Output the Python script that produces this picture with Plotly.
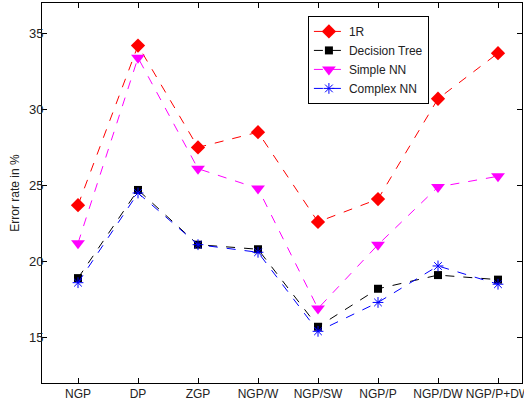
import plotly.graph_objects as go

categories = ["NGP", "DP", "ZGP", "NGP/W", "NGP/SW", "NGP/P", "NGP/DW", "NGP/P+DW"]
one_r = [23.7, 34.2, 27.5, 28.5, 22.6, 24.1, 30.7, 33.7]
decision_tree = [18.9, 24.7, 21.1, 20.8, 15.7, 18.2, 19.1, 18.8]
simple_nn = [21.2, 33.4, 26.1, 24.8, 16.9, 21.1, 24.9, 25.6]
complex_nn = [18.6, 24.5, 21.1, 20.6, 15.4, 17.3, 19.7, 18.5]
y_ticks = [15, 20, 25, 30, 35]

xs = list(range(len(categories)))

fig = go.Figure()
fig.add_trace(go.Scatter(x=xs, y=one_r, name="1R", mode="lines+markers",
                         line=dict(color="red", dash="dash", width=1),
                         marker=dict(symbol="diamond", size=11, color="red")))
fig.add_trace(go.Scatter(x=xs, y=decision_tree, name="Decision Tree", mode="lines+markers",
                         line=dict(color="black", dash="dash", width=1),
                         marker=dict(symbol="square", size=8, color="black")))
fig.add_trace(go.Scatter(x=xs, y=simple_nn, name="Simple NN", mode="lines+markers",
                         line=dict(color="magenta", dash="dash", width=1),
                         marker=dict(symbol="triangle-down", size=12, color="magenta")))
fig.add_trace(go.Scatter(x=xs, y=complex_nn, name="Complex NN", mode="lines+markers",
                         line=dict(color="blue", dash="dash", width=1),
                         marker=dict(symbol="asterisk-open", size=9, color="blue",
                                     line=dict(color="blue", width=1))))

fig.update_layout(
    width=524, height=404,
    margin=dict(l=42, r=2, t=3, b=21, autoexpand=False),
    paper_bgcolor="white", plot_bgcolor="white",
    font=dict(family="Liberation Sans, Arial, sans-serif", size=12, color="#222"),
    showlegend=True,
    legend=dict(x=0.554, y=0.966, xanchor="left", yanchor="top",
                bordercolor="black", borderwidth=1, bgcolor="white",
                font=dict(size=12), tracegroupgap=0, itemwidth=30),
)
fig.update_xaxes(range=[-0.6, 7.4], tickvals=xs, ticktext=categories,
                 ticks="inside", ticklen=5, tickcolor="black",
                 showline=True, linecolor="black", linewidth=1, mirror="ticks",
                 showgrid=False, zeroline=False, tickfont=dict(size=12),
                 automargin=False, ticklabeloverflow="allow")
fig.update_yaxes(range=[12, 37], tickvals=y_ticks,
                 ticks="inside", ticklen=5, tickcolor="black",
                 showline=True, linecolor="black", linewidth=1, mirror="ticks",
                 showgrid=False, zeroline=False,
                 title=dict(text="Error rate in %", standoff=6, font=dict(size=12)),
                 tickfont=dict(size=13), automargin=False, ticklabelstandoff=-5)

fig.write_html("out.html",
               config={"displayModeBar": False},
               post_script="document.body.style.margin='0';document.body.style.overflow='hidden';")
